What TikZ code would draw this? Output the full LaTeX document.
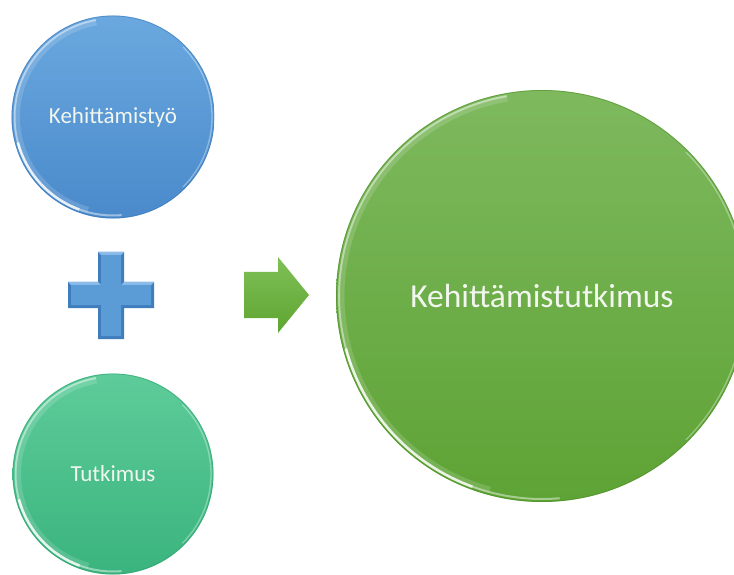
\documentclass[tikz,border=0pt]{standalone}
\usepackage{fontspec}
\setmainfont{Carlito}
\usetikzlibrary{calc}

\definecolor{blueTop}{HTML}{6AA8DF}
\definecolor{blueBot}{HTML}{4A8ACB}
\definecolor{blueEdge}{HTML}{3C78B8}
\definecolor{tealTop}{HTML}{5ECC9A}
\definecolor{tealBot}{HTML}{3AB47E}
\definecolor{tealEdge}{HTML}{2FA06C}
\definecolor{grnTop}{HTML}{7EB95E}
\definecolor{grnBot}{HTML}{5EA335}
\definecolor{grnEdge}{HTML}{4E8E2A}
\definecolor{plusFace}{HTML}{5B9BD6}
\definecolor{plusDark}{HTML}{3F7DBD}
\definecolor{plusLight}{HTML}{8CBDEA}
\definecolor{arrTop}{HTML}{80C057}
\definecolor{arrBot}{HTML}{5EA531}
\definecolor{txt}{HTML}{F1F6EE}

\tikzset{
  bubble/.style={circle, inner sep=0pt, text=txt, draw=none},
  rimhaze/.style={white, line width=6pt, opacity=0.15},
  rimsoft/.style={white, line width=2pt, opacity=0.45},
  rimbright/.style={white, line width=2.6pt, opacity=0.85},
  rimthin/.style={white, line width=1.3pt, opacity=0.35},
}

% glossy rim on a circle node: #1 node, #2 radius, #3 edge colour
\newcommand{\glossrim}[3]{%
  \draw[#3, line width=0.7pt, opacity=0.6] (#1.center) circle[radius=#2];
  \draw[rimhaze] ($(#1.center)+(100:#2-5)$) arc (100:255:#2-5);
  \draw[rimsoft] ($(#1.center)+(100:#2-2.5)$) arc (100:200:#2-2.5);
  \draw[rimbright] ($(#1.center)+(195:#2-2.5)$) arc (195:250:#2-2.5);
  \draw[rimsoft] ($(#1.center)+(250:#2-2.5)$) arc (250:275:#2-2.5);
  \draw[rimthin] ($(#1.center)+(-45:#2-2)$) arc (-45:45:#2-2);
}

\begin{document}
\begin{tikzpicture}[x=1pt,y=1pt]
\clip (0,0) rectangle (734,574);
\fill[white] (0,0) rectangle (734,574);

% development work
\node[bubble, minimum size=203pt, top color=blueTop, bottom color=blueBot,
      font=\fontsize{23}{27}\selectfont] (dev) at (113,457) {Kehittämistyö};
\glossrim{dev}{101}{blueEdge}

% research
\node[bubble, minimum size=201pt, top color=tealTop, bottom color=tealBot,
      font=\fontsize{23}{27}\selectfont] (res) at (113,100) {Tutkimus};
\glossrim{res}{100}{tealEdge}

% development research
\node[bubble, minimum size=412pt, top color=grnTop, bottom color=grnBot,
      font=\fontsize{33.5}{40}\selectfont] (dr) at (542,278) {Kehittämistutkimus};
\glossrim{dr}{205.5}{grnEdge}

% plus sign with bevel
\coordinate (pc) at (111,279);
\fill[plusDark]
  ($(pc)+(-13,43)$) -- ($(pc)+(13,43)$) -- ($(pc)+(13,13)$) -- ($(pc)+(43,13)$)
  -- ($(pc)+(43,-13)$) -- ($(pc)+(13,-13)$) -- ($(pc)+(13,-44)$) -- ($(pc)+(-13,-44)$)
  -- ($(pc)+(-13,-13)$) -- ($(pc)+(-43,-13)$) -- ($(pc)+(-43,13)$) -- ($(pc)+(-13,13)$) -- cycle;
\fill[plusLight]
  ($(pc)+(-13,43)$) -- ($(pc)+(13,43)$) -- ($(pc)+(10,40)$) -- ($(pc)+(-10,40)$) -- cycle;
\fill[plusLight]
  ($(pc)+(-43,13)$) -- ($(pc)+(-13,13)$) -- ($(pc)+(-10,10)$) -- ($(pc)+(-40,10)$) -- cycle;
\fill[plusLight]
  ($(pc)+(13,13)$) -- ($(pc)+(43,13)$) -- ($(pc)+(40,10)$) -- ($(pc)+(10,10)$) -- cycle;
\fill[plusFace]
  ($(pc)+(-10,40)$) -- ($(pc)+(10,40)$) -- ($(pc)+(10,10)$) -- ($(pc)+(40,10)$)
  -- ($(pc)+(40,-10)$) -- ($(pc)+(10,-10)$) -- ($(pc)+(10,-41)$) -- ($(pc)+(-10,-41)$)
  -- ($(pc)+(-10,-10)$) -- ($(pc)+(-40,-10)$) -- ($(pc)+(-40,10)$) -- ($(pc)+(-10,10)$) -- cycle;

% arrow
\coordinate (at) at (309,279);
\shade[top color=arrTop, bottom color=arrBot]
  ($(at)+(-65,23)$) -- ($(at)+(-31,23)$) -- ($(at)+(-31,38)$) -- (at)
  -- ($(at)+(-31,-38)$) -- ($(at)+(-31,-23)$) -- ($(at)+(-65,-23)$) -- cycle;
\end{tikzpicture}
\end{document}
